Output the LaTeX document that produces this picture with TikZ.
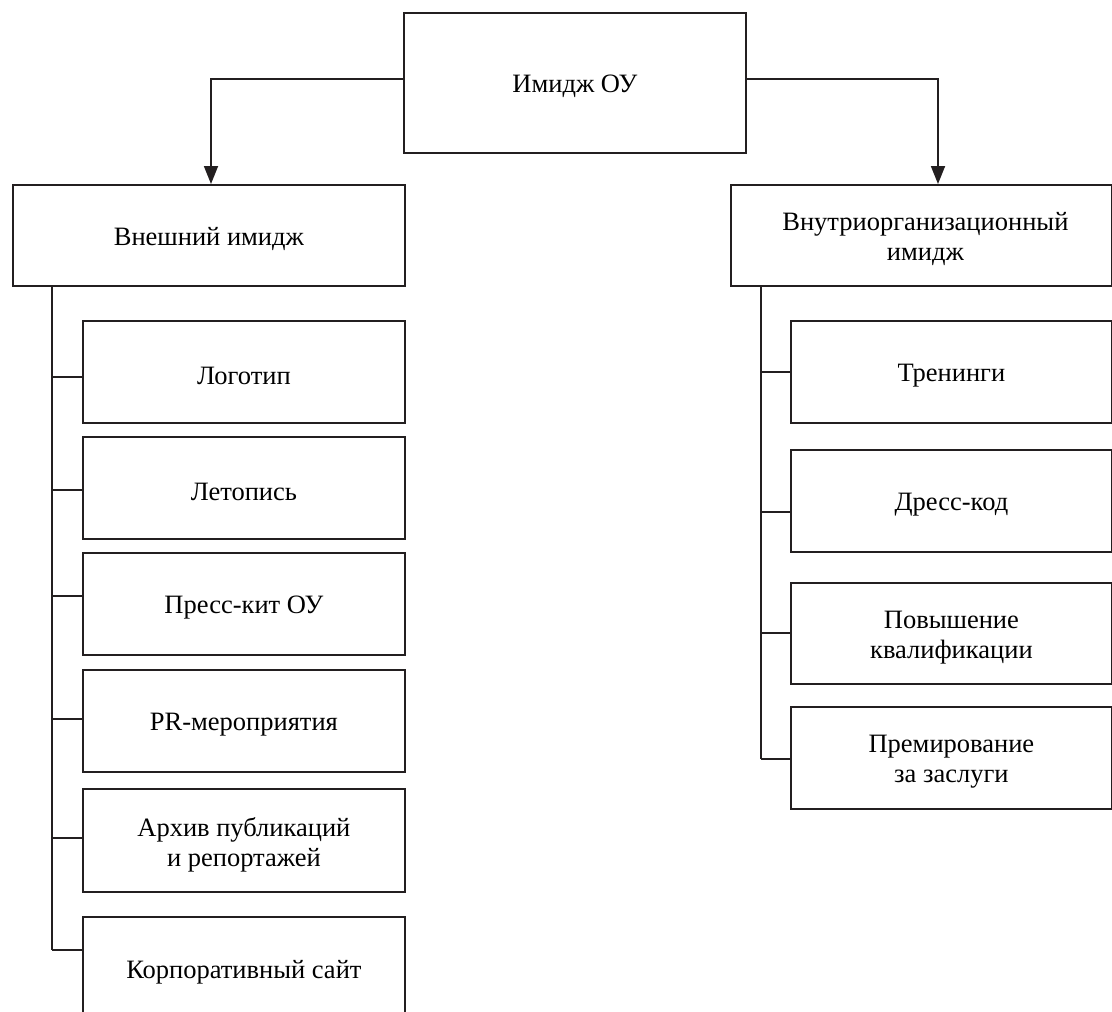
\documentclass[tikz,border=0pt]{standalone}
\usepackage{fontspec}
\setmainfont{Liberation Serif}
\usetikzlibrary{arrows.meta}
\definecolor{ink}{RGB}{35,31,32}
\begin{document}
\begin{tikzpicture}[x=1pt,y=-1pt,
  box/.style={draw=ink, line width=1.8pt, inner sep=0pt, anchor=north west},
  lbl/.style={align=center, font=\fontsize{26.5}{30}\selectfont, text=black, yshift=-4pt},
  conn/.style={draw=ink, line width=1.8pt},
  arr/.style={conn, -{Triangle[length=18pt,width=14pt]}}]
\useasboundingbox (0,0) rectangle (1112,1012);
\clip (0,0) rectangle (1112,1012);
% top
\node[box, minimum width=342pt, minimum height=140pt,
  label={[lbl,name=ttop,yshift=1pt]center:Имидж ОУ}] (top) at (403,12) {};
% level 1
\node[box, minimum width=392pt, minimum height=101pt,
  label={[lbl,name=text]center:Внешний имидж}] (ext) at (12,184) {};
\node[box, minimum width=381pt, minimum height=101pt,
  label={[lbl,name=tint,xshift=4pt]center:Внутриорганизационный\\имидж}] (int) at (730,184) {};
% left children
\node[box, minimum width=322pt, minimum height=102pt,
  label={[lbl,name=tl1]center:Логотип}] (l1) at (82,320) {};
\node[box, minimum width=322pt, minimum height=102pt,
  label={[lbl,name=tl2]center:Летопись}] (l2) at (82,436) {};
\node[box, minimum width=322pt, minimum height=102pt,
  label={[lbl,name=tl3]center:Пресс-кит ОУ}] (l3) at (82,552) {};
\node[box, minimum width=322pt, minimum height=102pt,
  label={[lbl,name=tl4]center:PR-мероприятия}] (l4) at (82,669) {};
\node[box, minimum width=322pt, minimum height=103pt,
  label={[lbl,name=tl5]center:Архив публикаций\\и репортажей}] (l5) at (82,788) {};
\node[box, minimum width=322pt, minimum height=103pt,
  label={[lbl,name=tl6]center:Корпоративный сайт}] (l6) at (82,916) {};
% right children
\node[box, minimum width=321pt, minimum height=102pt,
  label={[lbl,name=tr1]center:Тренинги}] (r1) at (790,320) {};
\node[box, minimum width=321pt, minimum height=102pt,
  label={[lbl,name=tr2]center:Дресс-код}] (r2) at (790,449) {};
\node[box, minimum width=321pt, minimum height=101pt,
  label={[lbl,name=tr3]center:Повышение\\квалификации}] (r3) at (790,582) {};
\node[box, minimum width=321pt, minimum height=102pt,
  label={[lbl,name=tr4]center:Премирование\\за заслуги}] (r4) at (790,706) {};
% arrows from top
\coordinate (ta) at (211,79);
\coordinate (tb) at (938,79);
\draw[arr] (top.west |- ta) -- (ta) -- (ta |- ext.north);
\draw[arr] (top.east |- tb) -- (tb) -- (tb |- int.north);
% left trunk
\coordinate (lt) at (52,285);
\coordinate (j1) at (52,377);
\coordinate (j2) at (52,490);
\coordinate (j3) at (52,596);
\coordinate (j4) at (52,719);
\coordinate (j5) at (52,838);
\coordinate (j6) at (52,950);
\draw[conn] (lt) -- (j6);
\draw[conn] (j1) -- (j1 -| l1.west);
\draw[conn] (j2) -- (j2 -| l2.west);
\draw[conn] (j3) -- (j3 -| l3.west);
\draw[conn] (j4) -- (j4 -| l4.west);
\draw[conn] (j5) -- (j5 -| l5.west);
\draw[conn] (j6) -- (j6 -| l6.west);
% right trunk
\coordinate (rt) at (761,285);
\coordinate (k1) at (761,372);
\coordinate (k2) at (761,512);
\coordinate (k3) at (761,633);
\coordinate (k4) at (761,759);
\draw[conn] (rt) -- (k4);
\draw[conn] (k1) -- (k1 -| r1.west);
\draw[conn] (k2) -- (k2 -| r2.west);
\draw[conn] (k3) -- (k3 -| r3.west);
\draw[conn] (k4) -- (k4 -| r4.west);
\end{tikzpicture}
\end{document}
